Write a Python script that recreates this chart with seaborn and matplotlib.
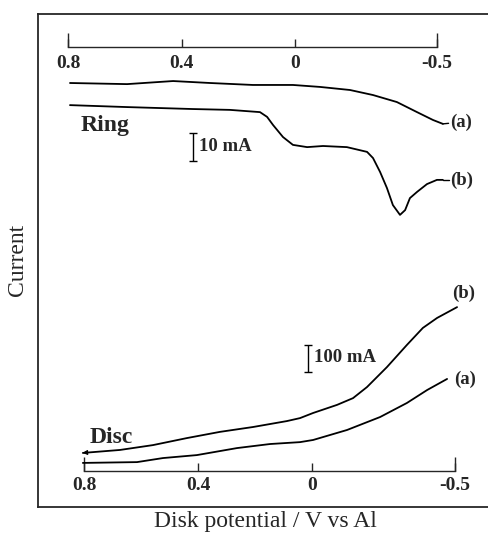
import numpy as np
import pandas as pd
import seaborn as sns
import matplotlib
matplotlib.use("Agg")
import matplotlib.pyplot as plt

sns.set_style("white")
plt.rcParams['font.family'] = ['Liberation Serif', 'DejaVu Serif']

# ring currents (mA, relative)
ring_a_v = [0.793, 0.592, 0.43, 0.3, 0.149, 0.008, -0.087, -0.193, -0.274, -0.358, -0.429, -0.485, -0.52]
ring_a_i = [0, -0.4, 0.7, 0, -0.7, -0.7, -1.4, -2.5, -4.3, -6.8, -10.4, -13.2, -14.6]
ring_b_v = [0.793, 0.592, 0.36, 0.23, 0.124, 0.099, 0.078, 0.043, 0.008, -0.042, -0.098, -0.182,
            -0.253, -0.274, -0.299, -0.323, -0.344, -0.369, -0.387, -0.404, -0.429, -0.464, -0.499, -0.52]
ring_b_i = [-7.9, -8.6, -9.3, -9.6, -10.4, -12.1, -15.0, -19.3, -22.1, -22.9, -22.5, -22.9,
            -24.6, -26.8, -31.8, -37.5, -43.6, -47.1, -45.4, -41.1, -38.9, -36.1, -34.6, -34.6]

# disc currents (mA, relative)
disc_a_v = [0.804, 0.614, 0.523, 0.404, 0.263, 0.147, 0.042, -0.004, -0.123, -0.239, -0.333, -0.404, -0.474]
disc_a_i = [4, 7, 22, 33, 59, 74, 81, 89, 126, 174, 226, 274, 315]
disc_b_v = [0.804, 0.674, 0.558, 0.439, 0.323, 0.207, 0.088, 0.042, -0.004, -0.088, -0.144,
            -0.193, -0.263, -0.333, -0.389, -0.439, -0.509]
disc_b_i = [41, 52, 70, 96, 119, 137, 159, 170, 189, 219, 244, 285, 359, 441, 504, 541, 581]

ticks = [0.8, 0.4, 0, -0.5]
tick_labels = ["0.8", "0.4", "0", "-0.5"]

W, H = 489, 534
fig = plt.figure(figsize=(W / 100, H / 100), dpi=100)


def box(x0, y0, x1, y1):
    return [x0 / W, 1 - y1 / H, (x1 - x0) / W, (y1 - y0) / H]


# outer frame (no right side)
frame = fig.add_axes(box(38, 14, 492, 507))
frame.set_xticks([])
frame.set_yticks([])
frame.spines['right'].set_visible(False)
for s in ['left', 'top', 'bottom']:
    frame.spines[s].set_linewidth(1.3)
frame.patch.set_alpha(0)


def scale_axis(ax, spine_y, pad):
    for s in ['left', 'right', 'top']:
        ax.spines[s].set_visible(False)
    ax.spines['bottom'].set_position(('data', spine_y))
    ax.spines['bottom'].set_bounds(-0.5, 0.8)
    ax.spines['bottom'].set_linewidth(1.0)
    ax.xaxis.remove_overlapping_locs = False
    ax.set_xticks(ticks)
    ax.set_xticklabels(tick_labels, fontsize=14, fontweight='bold')
    ax.set_xticks([0.8, -0.5], minor=True)
    ax.tick_params(axis='x', which='both', bottom=True, top=False)
    ax.tick_params(axis='x', which='major', direction='in', length=6, width=1, pad=pad)
    ax.tick_params(axis='x', which='minor', direction='in', length=10, width=1)
    ax.set_yticks([])
    ax.set_xlabel("")
    ax.set_ylabel("")
    ax.patch.set_alpha(0)


# ring panel: 2.8 px per mA, 0 mA at y=83 px
ring = fig.add_axes(box(38, 20, 489, 230))
ring_df = pd.concat([
    pd.DataFrame({"E": ring_a_v, "I": ring_a_i, "run": "a"}),
    pd.DataFrame({"E": ring_b_v, "I": ring_b_i, "run": "b"}),
])
sns.lineplot(data=ring_df, x="E", y="I", units="run", estimator=None, sort=False,
             color="black", lw=1.3, ax=ring)
ring.set_xlim(0.8 + 30 / 284, 0.8 - 421 / 284)
ring.set_ylim((83 - 230) / 2.8, (83 - 20) / 2.8)
scale_axis(ring, (83 - 47) / 2.8, 5.5)
ring.text(0.757, -15.2, "Ring", fontsize=17, fontweight='bold', va='center')
ring.errorbar([0.36], [-22.9], yerr=[5.0], color='black', capsize=3, lw=1, capthick=1)
ring.text(0.338, -22.6, "10 mA", fontsize=13.5, fontweight='bold', va='center')
ring.plot([-0.52, -0.54], [-14.6, -14.4], color='black', lw=1)
ring.text(-0.545, -14.2, "(a)", fontsize=13.5, fontweight='bold', va='center')
ring.plot([-0.52, -0.54], [-34.6, -34.6], color='black', lw=1)
ring.text(-0.545, -34.8, "(b)", fontsize=13.5, fontweight='bold', va='center')

# disc panel: 0.27 px per mA, 0 mA at y=464 px
disc = fig.add_axes(box(38, 280, 489, 500))
disc_df = pd.concat([
    pd.DataFrame({"E": disc_a_v, "I": disc_a_i, "run": "a"}),
    pd.DataFrame({"E": disc_b_v, "I": disc_b_i, "run": "b"}),
])
sns.lineplot(data=disc_df, x="E", y="I", units="run", estimator=None, sort=False,
             color="black", lw=1.3, ax=disc)
disc.set_xlim(0.8 + 46 / 285, 0.8 - 405 / 285)
disc.set_ylim((464 - 500) / 0.27, (464 - 280) / 0.27)
scale_axis(disc, (464 - 471) / 0.27, 4.5)
disc.annotate("", xy=(0.815, 41), xytext=(0.78, 43),
              arrowprops=dict(arrowstyle="-|>", color="black", lw=0.8, mutation_scale=7))
disc.text(0.78, 97, "Disc", fontsize=17, fontweight='bold', va='center')
disc.errorbar([0.014], [391], yerr=[50], color='black', capsize=3, lw=1, capthick=1)
disc.text(-0.006, 393, "100 mA", fontsize=13.5, fontweight='bold', va='center')
disc.text(-0.5, 315, "(a)", fontsize=13.5, fontweight='bold', va='center')
disc.text(-0.49, 633, "(b)", fontsize=13.5, fontweight='bold', va='center')

fig.text(18 / W, 1 - 260 / H, "Current", rotation=90, fontsize=17, ha='center', va='center')
fig.text(265 / W, 1 - 522 / H, "Disk potential / V vs Al", fontsize=17, ha='center', va='center')

fig.savefig("out.png", dpi=100)
